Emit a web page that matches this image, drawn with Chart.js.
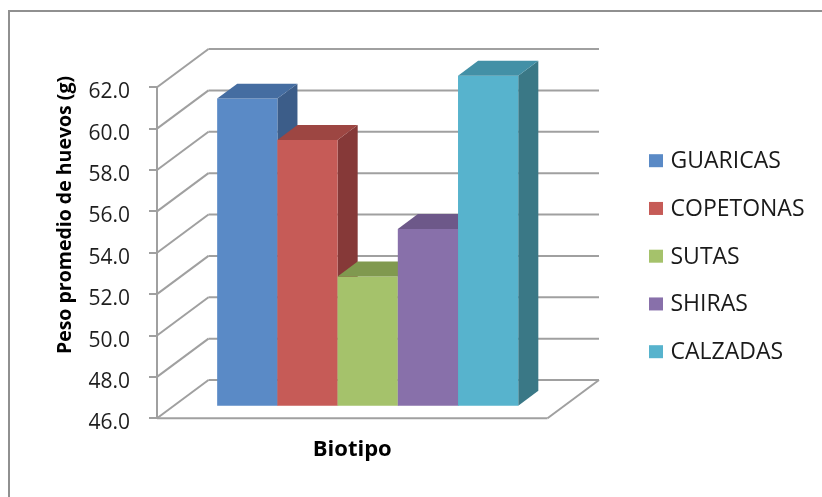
<!DOCTYPE html>
<html>
<head>
<meta charset="utf-8">
<script src="https://cdn.jsdelivr.net/npm/chart.js@4.4.1/dist/chart.umd.min.js"></script>
<style>
  html, body { margin: 0; padding: 0; background: #fff; }
  #wrap { position: relative; width: 822px; height: 497px; }
</style>
</head>
<body>
<div id="wrap"><canvas id="chart"></canvas></div>
<script>
// Biotipos y peso promedio de huevos (g)
const categories = ['GUARICAS', 'COPETONAS', 'SUTAS', 'SHIRAS', 'CALZADAS'];
const pesoPromedio = [60.9, 58.9, 52.3, 54.6, 62.0];
const yTicks = [46, 48, 50, 52, 54, 56, 58, 60, 62];
const xTitle = 'Biotipo';
const yTitle = 'Peso promedio de huevos (g)';

// front, top and side shading of each column
const faceColors = ['#5A8AC6', '#C65B57', '#A5C26B', '#8870AA', '#57B3CD'];
const topColors  = ['#456DA1', '#9D4642', '#80994F', '#6D5889', '#4390A6'];
const sideColors = ['#3C5D89', '#863938', '#6E8643', '#5C4A78', '#3A7886'];

const FONT = "'Open Sans', sans-serif";
const LINE = '#a0a0a0';

// oblique projection of the floor depth, and where the columns sit inside it
const depth = { x: 51.5, y: -38.3 };
const barDepth = { front: 0.30, back: 0.69 };

// legend column on the right
const legendBox = { x: 649, y: 160.7, size: 13, step: 47.75, textX: 670.5, font: 23 };

function line(ctx, x1, y1, x2, y2) {
  ctx.beginPath();
  ctx.moveTo(x1, y1);
  ctx.lineTo(x2, y2);
  ctx.stroke();
}

function poly(ctx, pts, fill) {
  ctx.beginPath();
  ctx.moveTo(pts[0][0], pts[0][1]);
  for (let i = 1; i < pts.length; i++) ctx.lineTo(pts[i][0], pts[i][1]);
  ctx.closePath();
  ctx.fillStyle = fill;
  ctx.fill();
}

const box3d = {
  id: 'box3d',
  beforeDraw(chart) {
    const ctx = chart.ctx;
    ctx.save();
    ctx.fillStyle = '#fff';
    ctx.fillRect(0, 0, chart.width, chart.height);
    ctx.strokeStyle = '#909090';
    ctx.lineWidth = 2;
    ctx.strokeRect(9, 11, chart.width + 20, chart.height + 20);
    ctx.restore();
  },
  beforeDatasetsDraw(chart) {
    const ctx = chart.ctx;
    const y = chart.scales.y;
    const { left, right, bottom } = chart.chartArea;
    ctx.save();
    ctx.strokeStyle = LINE;
    ctx.lineWidth = 2;
    // side wall diagonals and back wall gridlines
    y.ticks.forEach(t => {
      const py = y.getPixelForValue(t.value);
      line(ctx, left, py, left + depth.x, py + depth.y);
      line(ctx, left + depth.x, py + depth.y, right + depth.x, py + depth.y);
    });
    // floor front and right edges
    line(ctx, left, bottom, right, bottom);
    line(ctx, right, bottom, right + depth.x, bottom + depth.y);

    // columns, left to right
    const fx = depth.x * barDepth.front, fy = depth.y * barDepth.front;
    const dx = depth.x * (barDepth.back - barDepth.front);
    const dy = depth.y * (barDepth.back - barDepth.front);
    chart.data.datasets.forEach((ds, i) => {
      const meta = chart.getDatasetMeta(i);
      meta.data.forEach(el => {
        const p = el.getProps(['x', 'y', 'base', 'width'], true);
        const x0 = p.x - p.width / 2 + fx, x1 = p.x + p.width / 2 + fx;
        const top = p.y + fy, base = p.base + fy;
        poly(ctx, [[x1, top], [x1 + dx, top + dy], [x1 + dx, base + dy], [x1, base]], sideColors[i]);
        poly(ctx, [[x0, top], [x1, top], [x1, base], [x0, base]], faceColors[i]);
        poly(ctx, [[x0, top], [x0 + dx, top + dy], [x1 + dx, top + dy], [x1, top]], topColors[i]);
      });
    });
    ctx.restore();
    return false;
  },
  afterDraw(chart) {
    const ctx = chart.ctx;
    ctx.save();
    // value axis title
    ctx.save();
    ctx.translate(70.5, 215);
    ctx.rotate(-Math.PI / 2);
    ctx.font = 'bold 19.5px ' + FONT;
    ctx.fillStyle = '#000';
    ctx.textAlign = 'center';
    ctx.textBaseline = 'alphabetic';
    ctx.fillText(yTitle, 0, 0);
    ctx.restore();
    // legend
    ctx.font = legendBox.font + 'px ' + FONT;
    ctx.textAlign = 'left';
    ctx.textBaseline = 'middle';
    chart.data.datasets.forEach((ds, i) => {
      const cy = legendBox.y + i * legendBox.step;
      ctx.fillStyle = ds.backgroundColor;
      ctx.fillRect(legendBox.x, cy - legendBox.size / 2, legendBox.size + 1, legendBox.size);
      ctx.fillStyle = '#1a1a1a';
      ctx.fillText(ds.label, legendBox.textX, cy + 1);
    });
    ctx.restore();
  }
};

Chart.defaults.font.family = FONT;

new Chart(document.getElementById('chart'), {
  type: 'bar',
  data: {
    labels: [''],
    datasets: categories.map((name, i) => ({
      label: name,
      data: [pesoPromedio[i]],
      base: yTicks[0],
      backgroundColor: faceColors[i],
      borderWidth: 0,
      categoryPercentage: 0.771,
      barPercentage: 1
    }))
  },
  options: {
    responsive: true,
    maintainAspectRatio: false,
    animation: false,
    events: [],
    layout: { padding: { top: 87.3, right: 274.5, bottom: 0, left: 0 } },
    scales: {
      x: {
        type: 'category',
        grid: { display: false },
        border: { display: false },
        ticks: { display: false },
        title: {
          display: true,
          text: xTitle,
          color: '#000',
          font: { size: 22, weight: 'bold' },
          padding: { top: 0, bottom: 34.5 }
        },
        afterFit(s) { s.height = 78.7; }
      },
      y: {
        type: 'linear',
        min: yTicks[0],
        max: yTicks[yTicks.length - 1],
        afterBuildTicks(s) { s.ticks = yTicks.map(v => ({ value: v })); },
        ticks: {
          callback: v => Number(v).toFixed(1),
          color: '#1e1e1e',
          font: { size: 21 },
          padding: 19,
          labelOffset: 5
        },
        grid: { display: true, drawOnChartArea: false, drawTicks: true, tickLength: 8, color: LINE, lineWidth: 2 },
        border: { display: true, color: LINE, width: 2 },
        afterFit(s) { s.width = 157; }
      }
    },
    plugins: {
      tooltip: { enabled: false },
      legend: { display: false }
    }
  },
  plugins: [box3d]
});
</script>
</body>
</html>
